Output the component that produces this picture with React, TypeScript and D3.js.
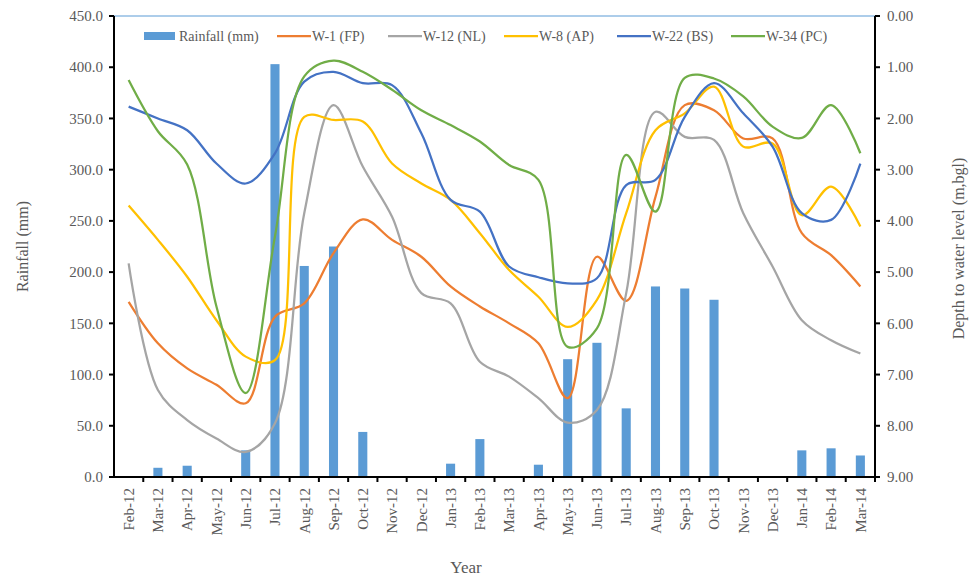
import React from "react";
import * as d3 from "d3";

const months = [
  "Feb-12", "Mar-12", "Apr-12", "May-12", "Jun-12", "Jul-12", "Aug-12", "Sep-12", "Oct-12",
  "Nov-12", "Dec-12", "Jan-13", "Feb-13", "Mar-13", "Apr-13", "May-13", "Jun-13", "Jul-13",
  "Aug-13", "Sep-13", "Oct-13", "Nov-13", "Dec-13", "Jan-14", "Feb-14", "Mar-14",
];

const rainfall = [
  0, 9, 11, 0, 26, 403, 206, 225, 44, 0, 0, 13, 37, 0, 12, 115, 131, 67, 186, 184, 173, 0, 0, 26, 28, 21,
];

const w1FP = [
  5.58, 6.39, 6.88, 7.2, 7.56, 5.87, 5.61, 4.63, 3.97, 4.37, 4.7, 5.28, 5.67, 6.0, 6.39, 7.46,
  4.7, 5.56, 3.53, 1.74, 1.84, 2.39, 2.39, 4.24, 4.67, 5.28,
];
const w12NL = [
  4.83, 7.3, 7.89, 8.25, 8.51, 7.95, 3.85, 1.74, 2.94, 3.92, 5.41, 5.61, 6.75, 7.04, 7.46, 7.94,
  7.69, 5.41, 1.87, 2.36, 2.42, 3.85, 4.89, 5.94, 6.33, 6.59,
];
const w8AP = [
  3.7, 4.37, 5.09, 5.94, 6.65, 6.72, 1.97, 2.03, 2.06, 2.88, 3.27, 3.59, 4.24, 4.96, 5.48, 6.07,
  5.54, 3.85, 2.23, 1.9, 1.38, 2.55, 2.49, 3.89, 3.33, 4.11,
];
const w22BS = [
  1.77, 2.0, 2.23, 2.88, 3.27, 2.68, 1.28, 1.09, 1.31, 1.35, 2.29, 3.59, 3.82, 4.89, 5.1, 5.22,
  5.12, 3.3, 3.2, 1.97, 1.31, 1.9, 2.55, 3.85, 3.98, 2.88,
];
const w34PC = [
  1.25, 2.25, 2.9, 5.67, 7.36, 4.3, 1.18, 0.87, 1.09, 1.44, 1.84, 2.13, 2.45, 2.91, 3.2, 6.46,
  6.1, 2.71, 3.82, 1.21, 1.22, 1.57, 2.16, 2.38, 1.74, 2.68,
];

const leftTicks = [0, 50, 100, 150, 200, 250, 300, 350, 400, 450];
const rightTicks = [0, 1, 2, 3, 4, 5, 6, 7, 8, 9];

const series = [
  { name: "W-1 (FP)", values: w1FP, color: "#ED7D31" },
  { name: "W-12 (NL)", values: w12NL, color: "#A5A5A5" },
  { name: "W-8 (AP)", values: w8AP, color: "#FFC000" },
  { name: "W-22 (BS)", values: w22BS, color: "#4472C4" },
  { name: "W-34 (PC)", values: w34PC, color: "#70AD47" },
];

const W = 971;
const H = 583;
const left = 114;
const right = 875;
const top = 16;
const bottom = 477;
const font = "'Liberation Serif', 'Times New Roman', serif";
const textColor = "#595959";

export default function App() {
  const x = d3.scaleBand<string>().domain(months).range([left, right]).paddingInner(0.69).paddingOuter(0.345);
  const xc = d3.scaleBand<string>().domain(months).range([left, right]);
  const yL = d3.scaleLinear().domain([0, 450]).range([bottom, top]);
  const yR = d3.scaleLinear().domain([0, 9]).range([top, bottom]);

  const line = d3
    .line<number>()
    .x((_, i) => (xc(months[i]) as number) + xc.bandwidth() / 2)
    .y((d) => yR(d))
    .curve(d3.curveCatmullRom.alpha(0.5));

  const legendItems = [
    { name: "Rainfall (mm)", type: "bar", color: "#5B9BD5", x: 144 },
    { name: series[0].name, type: "line", color: series[0].color, x: 277 },
    { name: series[1].name, type: "line", color: series[1].color, x: 388 },
    { name: series[2].name, type: "line", color: series[2].color, x: 504 },
    { name: series[3].name, type: "line", color: series[3].color, x: 617 },
    { name: series[4].name, type: "line", color: series[4].color, x: 731 },
  ];

  return (
    <svg
      width={W}
      height={H}
      style={{ position: "absolute", left: 0, top: 0, background: "#fff" }}
      fontFamily={font}
    >
      <rect x={0} y={0} width={W} height={H} fill="#fff" />

      {/* rainfall bars */}
      {rainfall.map((v, i) =>
        v > 0 ? (
          <rect
            key={months[i]}
            x={x(months[i])}
            y={yL(v)}
            width={x.bandwidth()}
            height={bottom - yL(v)}
            fill="#5B9BD5"
          />
        ) : null
      )}

      {/* water level lines */}
      {series.map((s) => (
        <path key={s.name} d={line(s.values) || ""} fill="none" stroke={s.color} strokeWidth={2.25} />
      ))}

      {/* frame */}
      <line x1={left} x2={right} y1={top} y2={top} stroke="#5B9BD5" strokeWidth={1} />
      <line x1={left} x2={left} y1={top} y2={bottom} stroke="#000" strokeWidth={2} />
      <line x1={right} x2={right} y1={top} y2={bottom} stroke="#000" strokeWidth={2} />
      <line x1={left - 1} x2={right + 1} y1={bottom} y2={bottom} stroke="#000" strokeWidth={2} />

      {/* left axis */}
      {leftTicks.map((t) => (
        <g key={"l" + t}>
          <line x1={left - 5} x2={left} y1={yL(t)} y2={yL(t)} stroke="#000" strokeWidth={2} />
          <text x={left - 11} y={yL(t)} dy="0.35em" textAnchor="end" fontSize={15} fill={textColor}>
            {t.toFixed(1)}
          </text>
        </g>
      ))}

      {/* right axis */}
      {rightTicks.map((t) => (
        <g key={"r" + t}>
          <line x1={right} x2={right + 5} y1={yR(t)} y2={yR(t)} stroke="#000" strokeWidth={2} />
          <text x={right + 12} y={yR(t)} dy="0.35em" textAnchor="start" fontSize={15} fill={textColor}>
            {t.toFixed(2)}
          </text>
        </g>
      ))}

      {/* bottom axis */}
      {months.map((m, i) => {
        const bx = xc(m) as number;
        return (
          <g key={"b" + m}>
            {i > 0 && <line x1={bx} x2={bx} y1={bottom} y2={bottom + 5} stroke="#000" strokeWidth={2} />}
            <text
              transform={`translate(${bx + xc.bandwidth() / 2},${bottom + 11}) rotate(-90)`}
              dy="0.35em"
              textAnchor="end"
              fontSize={15}
              fill={textColor}
            >
              {m}
            </text>
          </g>
        );
      })}
      <line x1={right} x2={right} y1={bottom} y2={bottom + 5} stroke="#000" strokeWidth={2} />

      {/* axis titles */}
      <text
        transform={`translate(22,${(top + bottom) / 2}) rotate(-90)`}
        textAnchor="middle"
        dy="0.35em"
        fontSize={16}
        fill={textColor}
      >
        Rainfall (mm)
      </text>
      <text
        transform={`translate(958,${(top + bottom) / 2 + 2}) rotate(-90)`}
        textAnchor="middle"
        dy="0.35em"
        fontSize={16}
        fill={textColor}
      >
        Depth to water level (m,bgl)
      </text>
      <text x={466} y={573} textAnchor="middle" fontSize={17} fill={textColor}>
        Year
      </text>

      {/* legend */}
      {legendItems.map((it) => (
        <g key={it.name}>
          {it.type === "bar" ? (
            <rect x={it.x} y={32} width={31} height={8} fill={it.color} />
          ) : (
            <line x1={it.x} x2={it.x + 34} y1={36} y2={36} stroke={it.color} strokeWidth={2.25} />
          )}
          <text x={it.x + 35} y={36} dy="0.35em" fontSize={14} fill={textColor}>
            {it.name}
          </text>
        </g>
      ))}
    </svg>
  );
}
